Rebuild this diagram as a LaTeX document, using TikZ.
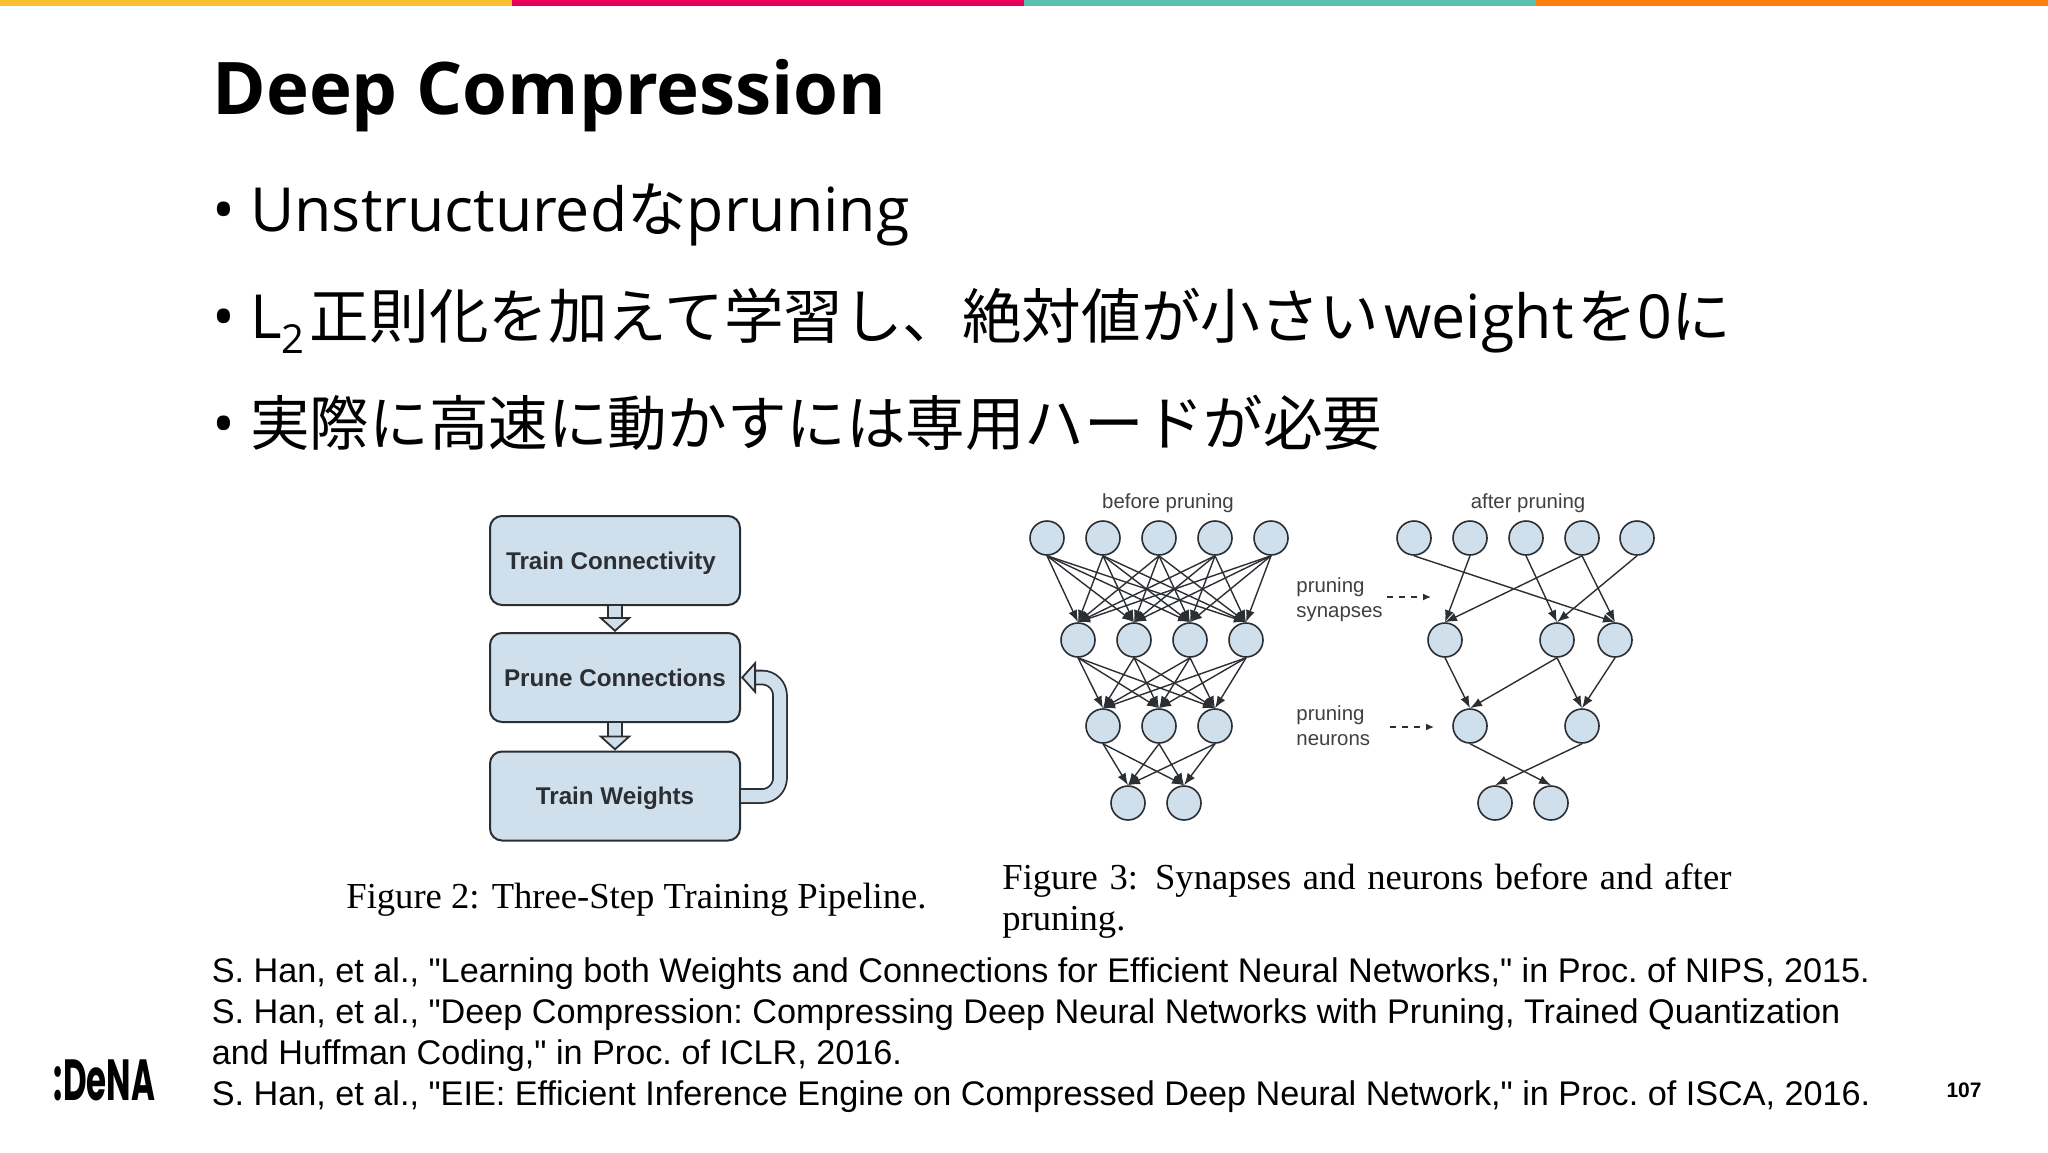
\documentclass[tikz,border=0pt]{standalone}
\usepackage{fontspec}
\setmainfont{Liberation Sans}
\newfontfamily\reffont{Liberation Sans}
\newfontfamily\slidefont{Open Sans}
\newfontfamily\capfont{Liberation Serif}
\newfontfamily\logofont{Poppins}
\newfontfamily\cjk[Scale=0.98]{Noto Sans CJK JP}
\usetikzlibrary{arrows.meta}
\definecolor{barYellow}{HTML}{FBC02D}
\definecolor{barRed}{HTML}{E5005A}
\definecolor{barTeal}{HTML}{5BBFAE}
\definecolor{barOrange}{HTML}{FF7F0E}
\definecolor{cellBlue}{HTML}{CFDFEC}
\definecolor{edgeDark}{HTML}{2B2F33}
\newcommand{\fsize}[1]{\fontsize{#1}{#1}\selectfont}
\newcommand{\bulletmark}{\makebox[19pt][l]{•}}
\tikzset{
	bullettext/.style={anchor=base west, inner sep=0pt, font=\slidefont\fsize{30.4pt}},
	stepbox/.style={draw=edgeDark, fill=cellBlue, line width=1pt, rounded corners=6pt, minimum width=125pt, minimum height=44.5pt, inner sep=0pt, text height=8.5pt, text depth=0pt, font=\bfseries\fsize{12.1pt}, text=edgeDark},
	blockarrow/.style={draw=edgeDark, line width=0.9pt, double=cellBlue, double distance=6pt, -{Triangle[length=7.5pt, width=16.5pt, fill=cellBlue, line width=0.9pt]}},
	neuron/.style={circle, draw=edgeDark, fill=cellBlue, line width=0.8pt, minimum size=17pt, inner sep=0pt},
	synapse/.style={-{Latex[length=6pt, width=4.5pt]}, draw=edgeDark, line width=0.7pt},
	smalllabel/.style={inner sep=0pt, text=black!75, font=\fontsize{10.2pt}{12.5pt}\selectfont},
	pruneflag/.style={-{Latex[length=4pt, width=3.5pt]}, dashed, draw=edgeDark, line width=0.7pt},
	caption/.style={anchor=base west, inner sep=0pt, font=\capfont\fsize{18.3pt}}
}
\begin{document}
\begin{tikzpicture}[x=0.5pt, y=-0.5pt]
	\useasboundingbox (0,0) rectangle (2048,1152);
	% colour bars
	\fill[barYellow] (0,0) rectangle (512,6);
	\fill[barRed] (512,0) rectangle (1024,6);
	\fill[barTeal] (1024,0) rectangle (1536,6);
	\fill[barOrange] (1536,0) rectangle (2048,6);
	% title and bullets
	\node[anchor=base west, inner sep=0pt, font=\slidefont\bfseries\fsize{36.3pt}] (title) at (212,114) {Deep Compression};
	\node[bullettext] (bulleta) at (212,231) {\bulletmark Unstructured{\cjk な}pruning};
	\node[bullettext] (bulletb) at (212,338) {\bulletmark L\raisebox{-0.25em}{\fsize{20pt}2}\hspace{2.5pt}{\cjk 正則化を加えて学習し、絶対値が小さい}\hspace{2.6pt}weight\hspace{2pt}{\cjk を}0{\cjk に}};
	\node[bullettext] (bulletc) at (212,445) {\bulletmark{\cjk 実際に高速に動かすには専用ハードが必要}};
	% pipeline
	\node[stepbox] (connect) at (615,560.5) {\hspace{-4pt}Train Connectivity};
	\node[stepbox] (prune) at (615,677.5) {Prune Connections};
	\node[stepbox] (weights) at (615,796) {Train Weights};
	\draw[blockarrow] (connect) -- (prune);
	\draw[blockarrow] (prune) -- (weights);
	\draw[blockarrow, rounded corners=9pt] (weights.east) -- ++(39,0) |- (prune.east);
	% network before pruning
	\foreach \name/\x in {a1/1047,a2/1103,a3/1159,a4/1215,a5/1271}
		\node[neuron] (\name) at (\x,538) {};
	\foreach \name/\x in {b1/1078,b2/1134,b3/1190,b4/1246}
		\node[neuron] (\name) at (\x,640) {};
	\foreach \name/\x in {c1/1103,c2/1159,c3/1215}
		\node[neuron] (\name) at (\x,726) {};
	\foreach \name/\x in {d1/1128,d2/1184}
		\node[neuron] (\name) at (\x,803) {};
	\foreach \i in {a1,a2,a3,a4,a5}
		\foreach \j in {b1,b2,b3,b4}
			\draw[synapse] (\i.south) -- (\j.north);
	\foreach \i in {b1,b2,b3,b4}
		\foreach \j in {c1,c2,c3}
			\draw[synapse] (\i.south) -- (\j.north);
	\foreach \i in {c1,c2,c3}
		\foreach \j in {d1,d2}
			\draw[synapse] (\i.south) -- (\j.north);
	% network after pruning
	\foreach \name/\x in {e1/1414,e2/1470,e3/1526,e4/1582,e5/1637}
		\node[neuron] (\name) at (\x,538) {};
	\foreach \name/\x in {f1/1445,f2/1557,f3/1615}
		\node[neuron] (\name) at (\x,640) {};
	\foreach \name/\x in {g1/1470,g2/1582}
		\node[neuron] (\name) at (\x,726) {};
	\foreach \name/\x in {h1/1495,h2/1551}
		\node[neuron] (\name) at (\x,803) {};
	\foreach \i/\j in {e1/f3,e2/f1,e3/f2,e4/f1,e4/f3,e5/f2,f1/g1,f2/g1,f2/g2,f3/g2,g1/h2,g2/h1}
		\draw[synapse] (\i.south) -- (\j.north);
	% labels
	\node[smalllabel] (before) at (1168,503) {before pruning};
	\node[smalllabel] (after) at (1528,503) {after pruning};
	\node[smalllabel, anchor=west, align=left] (synlabel) at (1296,600) {pruning\\synapses};
	\node[smalllabel, anchor=west, align=left] (neulabel) at (1296,726) {pruning\\neurons};
	\coordinate (synstart) at (1387,597);
	\coordinate (synend) at (1431,597);
	\coordinate (neustart) at (1390,727);
	\coordinate (neuend) at (1434,727);
	\draw[pruneflag] (synstart) -- (synend);
	\draw[pruneflag] (neustart) -- (neuend);
	% captions
	\node[caption] (figtwo) at (346,908) {Figure 2: Three-Step Training Pipeline.};
	\node[caption] (figthree) at (1002,889) {\makebox[364.5pt][s]{Figure 3: Synapses and neurons before and after}};
	\node[caption] (figthreeb) at (1002,930) {pruning.};
	% references
	\node[anchor=base west, inner sep=0pt, align=left, font=\reffont\frenchspacing\fontsize{17.1pt}{20.5pt}\selectfont] (refs) at (211.5,1105) {S. Han, et al., "Learning both Weights and Connections for Efficient Neural Networks," in Proc. of NIPS, 2015.\\
		S. Han, et al., "Deep Compression: Compressing Deep Neural Networks with Pruning, Trained Quantization\\
		and Huffman Coding," in Proc. of ICLR, 2016.\\
		S. Han, et al., "EIE: Efficient Inference Engine on Compressed Deep Neural Network," in Proc. of ISCA, 2016.};
	% footer
	\node[inner sep=0pt, font=\logofont\bfseries\fsize{29pt}] (logo) at (104.5,1080) {\scalebox{0.56}[1]{:DeNA}};
	\node[inner sep=0pt, font=\bfseries\fsize{10.5pt}] (page) at (1964,1090) {107};
\end{tikzpicture}
\end{document}
